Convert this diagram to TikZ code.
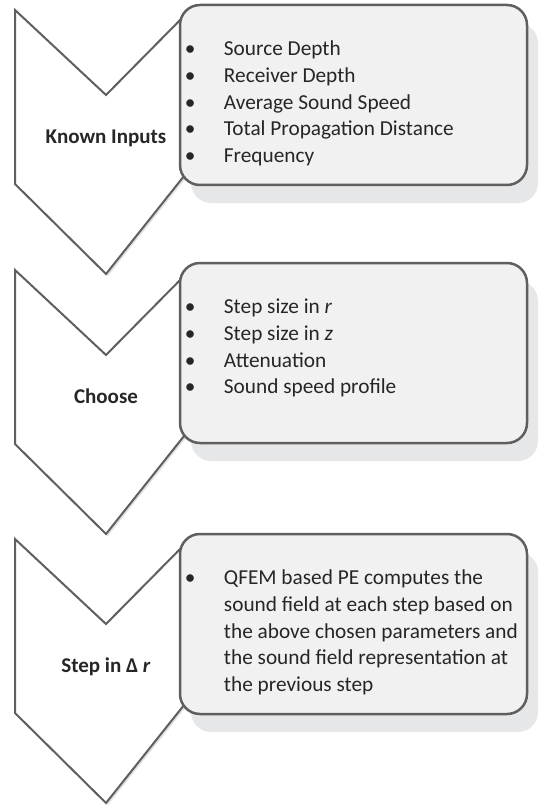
\documentclass[tikz,border=0pt]{standalone}
\usepackage{fontspec}
\setmainfont{Carlito}
\usetikzlibrary{positioning,shadows}

\definecolor{edgegray}{HTML}{5F5F5F}
\definecolor{boxgray}{HTML}{F1F1F1}
\definecolor{shadegray}{HTML}{E6E7E8}
\definecolor{chevshade}{HTML}{E2E2E2}

\tikzset{
    chevron/.style={draw=edgegray,line width=2pt,fill=white,line join=miter,
        general shadow={fill=chevshade,shadow xshift=2pt,shadow yshift=-2pt}},
    infobox/.style={draw=edgegray,line width=2.5pt,fill=boxgray,rounded corners=20pt,
        minimum width=347pt,minimum height=180pt,
        general shadow={fill=shadegray,shadow xshift=11pt,shadow yshift=-18pt}},
    steplabel/.style={font=\bfseries\fontsize{21}{25}\selectfont,text=black!85},
    itemlist/.style={align=left,inner sep=0pt,font=\fontsize{21.3}{26.7}\selectfont,text=black!85}
}

\newcommand{\bul}{\makebox[39pt][l]{\textbullet}}
\newcommand{\gap}{\hspace*{39pt}}

\begin{document}
\begin{tikzpicture}[x=1pt,y=-1pt]
\useasboundingbox (0,0) rectangle (540,805);

% chevrons down the left side
\draw[chevron] (15,10) -- (106,95) -- (190,10) -- (192,166) -- (106,274) -- (15,184) -- cycle;
\draw[chevron] (15,270) -- (106,355) -- (190,270) -- (192,426) -- (106,534) -- (15,444) -- cycle;
\draw[chevron] (15,539) -- (106,624) -- (190,539) -- (192,695) -- (106,803) -- (15,713) -- cycle;

% boxes
\node[infobox] (inputsBox) at (353.5,95) {};
\node[infobox] (chooseBox) at (353.5,353) {};
\node[infobox] (stepBox) at (353.5,624) {};

% labels
\node[steplabel] (inputsLabel) at (106,138) {Known Inputs};
\node[steplabel] (chooseLabel) at (106,396) {Choose};
\node[steplabel] (stepLabel) at (106,667) {Step in Δ \textit{r}};

% lists
\node[itemlist,below right=37pt and 6pt of inputsBox.north west] (inputsList)
    {\bul Source Depth\\ \bul Receiver Depth\\ \bul Average Sound Speed\\
     \bul Total Propagation Distance\\ \bul Frequency};
\node[itemlist,below right=37pt and 6pt of chooseBox.north west] (chooseList)
    {\bul Step size in \textit{r}\\ \bul Step size in \textit{z}\\ \bul Attenuation\\
     \bul Sound speed profile};
\node[itemlist,below right=37pt and 6pt of stepBox.north west] (stepList)
    {\bul QFEM based PE computes the\\ \gap sound field at each step based on\\
     \gap the above chosen parameters and\\ \gap the sound field representation at\\
     \gap the previous step};
\end{tikzpicture}
\end{document}
